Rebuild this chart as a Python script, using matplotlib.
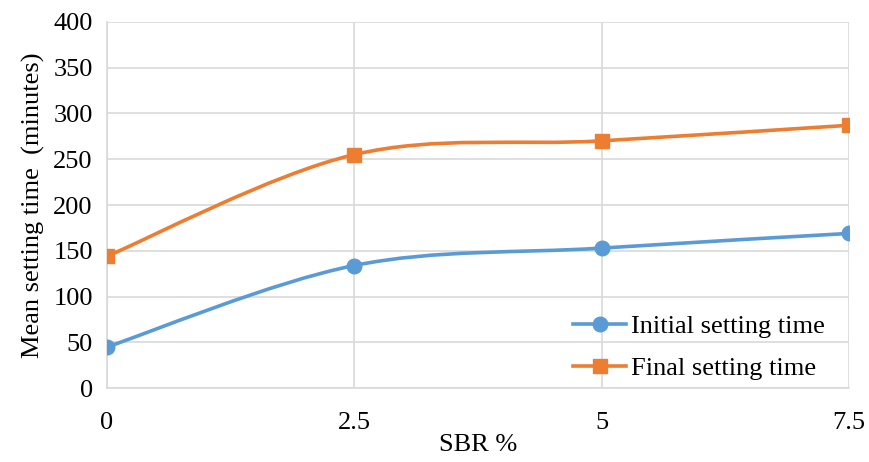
import matplotlib.pyplot as plt
from matplotlib.path import Path
from matplotlib.patches import PathPatch
from matplotlib.lines import Line2D

sbr = [0, 2.5, 5, 7.5]
initial_time = [45, 134, 153, 169]
final_time = [144, 255, 270, 287]
series_names = ["Initial setting time", "Final setting time"]
y_ticks = [0, 50, 100, 150, 200, 250, 300, 350, 400]
x_tick_labels = ["0", "2.5", "5", "7.5"]

BLUE = "#5B9BD5"
ORANGE = "#ED7D31"

plt.rcParams.update({
    "font.family": "serif",
    "font.serif": ["Liberation Serif", "DejaVu Serif"],
    "font.size": 19,
})


def smooth_path(xs, ys):
    # Excel-style smoothed line: cubic Bezier between points (Catmull-Rom, 1/6)
    pts = list(zip(xs, ys))
    verts = [pts[0]]
    codes = [Path.MOVETO]
    n = len(pts)
    for i in range(n - 1):
        p0 = pts[i - 1] if i > 0 else pts[i]
        p1 = pts[i]
        p2 = pts[i + 1]
        p3 = pts[i + 2] if i + 2 < n else pts[i + 1]
        c1 = (p1[0] + (p2[0] - p0[0]) / 6, p1[1] + (p2[1] - p0[1]) / 6)
        c2 = (p2[0] - (p3[0] - p1[0]) / 6, p2[1] - (p3[1] - p1[1]) / 6)
        verts += [c1, c2, p2]
        codes += [Path.CURVE4] * 3
    return Path(verts, codes)


fig = plt.figure(figsize=(8.69, 4.62), dpi=100)
ax = fig.add_axes([0.1228, 0.1595, 0.8542, 0.7935])

handles = []
for ys, color, marker, ms, name in [
    (initial_time, BLUE, "o", 10.5, series_names[0]),
    (final_time, ORANGE, "s", 9.5, series_names[1]),
]:
    ax.add_patch(PathPatch(smooth_path(sbr, ys), facecolor="none",
                           edgecolor=color, lw=2.6, zorder=3))
    ax.plot(sbr, ys, linestyle="none", marker=marker, markersize=ms,
            color=color, zorder=4)
    handles.append(Line2D([], [], color=color, lw=2.6, marker=marker,
                          markersize=ms, label=name))

ax.set_xlim(0, 7.5)
ax.set_ylim(0, 400)
ax.set_xticks(sbr)
ax.set_xticklabels(x_tick_labels)
ax.set_yticks(y_ticks)
ax.grid(True, color="#d9d9d9", lw=1.2)
ax.set_axisbelow(True)
for s in ax.spines.values():
    s.set_visible(False)
ax.spines["left"].set_visible(True)
ax.spines["bottom"].set_visible(True)
ax.spines["left"].set_color("#d9d9d9")
ax.spines["bottom"].set_color("#d9d9d9")
ax.spines["left"].set_linewidth(1.2)
ax.spines["bottom"].set_linewidth(1.2)
ax.tick_params(length=0, pad=10)
ax.tick_params(axis="x", pad=17)

ax.set_xlabel("SBR %", labelpad=0)
ax.set_ylabel("Mean setting time  (minutes)", labelpad=6)

ax.legend(handles=handles, loc="lower right", frameon=False,
          handlelength=2.0, handletextpad=0.2, labelspacing=0.7,
          bbox_to_anchor=(1.0, -0.043))

plt.savefig("out.png", dpi=100)
plt.close()
